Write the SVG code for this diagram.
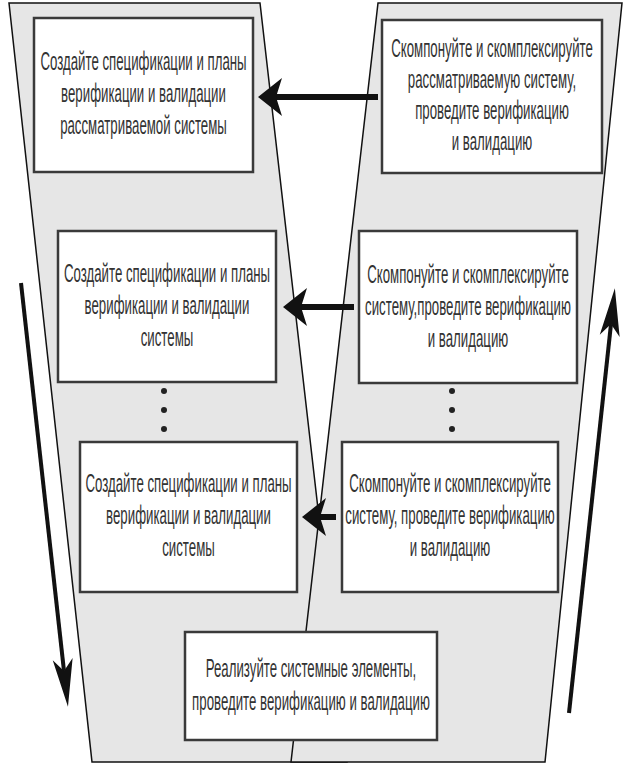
<svg xmlns="http://www.w3.org/2000/svg" width="629" height="767" viewBox="0 0 629 767">
<style>
.arm{fill:#e6e6e6;stroke:#111;stroke-width:1.5;stroke-linejoin:miter}
.box{fill:#fff;stroke:#3a3a3a;stroke-width:2.5}
.t{font-family:"Liberation Sans",Arial,sans-serif;font-size:25px;fill:#333;text-anchor:middle}
.h{stroke:#111;stroke-width:6;fill:none}
.v{stroke:#111;stroke-width:4;fill:none}
.dot{fill:#222}
</style>
<defs>
<marker id="hh" markerUnits="userSpaceOnUse" viewBox="0 0 24 40" refX="6" refY="20" markerWidth="24" markerHeight="40" orient="auto">
<path d="M0,1 L24,20 L0,39 L6,20 Z" fill="#111"/>
</marker>
<marker id="vh" markerUnits="userSpaceOnUse" viewBox="0 0 48 22" refX="12" refY="11" markerWidth="48" markerHeight="22" orient="auto">
<path d="M0,1 L48,11 L0,21 L12,11 Z" fill="#111"/>
</marker>
</defs>
<rect width="629" height="767" fill="#fff"/>
<g id="background">
<polygon class="arm" points="9,3 260,3 347,762 92,762"/>
<polygon class="arm" points="378,3 622,3 545,762 291,762"/>
</g>
<g id="dots">
<circle class="dot" cx="164" cy="391" r="3"/>
<circle class="dot" cx="164" cy="410" r="3"/>
<circle class="dot" cx="164" cy="429" r="3"/>
<circle class="dot" cx="452" cy="391" r="3"/>
<circle class="dot" cx="452" cy="410" r="3"/>
<circle class="dot" cx="452" cy="429" r="3"/>
</g>
<g id="n-left1">
<rect class="box" x="34" y="18" width="219" height="154"/>
<text class="t" transform="translate(143.5,0) scale(0.53,1)"><tspan x="0" y="70">Создайте спецификации и планы</tspan><tspan x="0" y="102">верификации и валидации</tspan><tspan x="0" y="134">рассматриваемой системы</tspan></text>
</g>
<g id="n-right1">
<rect class="box" x="382" y="20" width="220" height="153"/>
<text class="t" transform="translate(492,0) scale(0.53,1)"><tspan x="0" y="57">Скомпонуйте и скомплексируйте</tspan><tspan x="0" y="88">рассматриваемую систему,</tspan><tspan x="0" y="119">проведите верификацию</tspan><tspan x="0" y="150">и валидацию</tspan></text>
</g>
<g id="n-left2">
<rect class="box" x="58" y="231" width="218" height="151"/>
<text class="t" transform="translate(167,0) scale(0.53,1)"><tspan x="0" y="282">Создайте спецификации и планы</tspan><tspan x="0" y="314">верификации и валидации</tspan><tspan x="0" y="346">системы</tspan></text>
</g>
<g id="n-right2">
<rect class="box" x="359" y="231" width="218" height="152"/>
<text class="t" transform="translate(468,0) scale(0.53,1)"><tspan x="0" y="283">Скомпонуйте и скомплексируйте</tspan><tspan x="0" y="315">систему,проведите верификацию</tspan><tspan x="0" y="347">и валидацию</tspan></text>
</g>
<g id="n-left3">
<rect class="box" x="80" y="442" width="217" height="150"/>
<text class="t" transform="translate(188.5,0) scale(0.53,1)"><tspan x="0" y="492">Создайте спецификации и планы</tspan><tspan x="0" y="524">верификации и валидации</tspan><tspan x="0" y="556">системы</tspan></text>
</g>
<g id="n-right3">
<rect class="box" x="342" y="442" width="216" height="150"/>
<text class="t" transform="translate(450,0) scale(0.53,1)"><tspan x="0" y="492">Скомпонуйте и скомплексируйте</tspan><tspan x="0" y="524">систему, проведите верификацию</tspan><tspan x="0" y="556">и валидацию</tspan></text>
</g>
<g id="n-bottom">
<rect class="box" x="185" y="632" width="252" height="108"/>
<text class="t" transform="translate(311,0) scale(0.53,1)"><tspan x="0" y="677">Реализуйте системные элементы,</tspan><tspan x="0" y="710">проведите верификацию и валидацию</tspan></text>
</g>
<g id="connectors">
<line class="h" x1="378" y1="97" x2="276" y2="97" marker-end="url(#hh)"/>
<line class="h" x1="354" y1="307" x2="301" y2="307" marker-end="url(#hh)"/>
<line class="h" x1="336" y1="517" x2="320" y2="517" marker-end="url(#hh)"/>
<line class="v" x1="21" y1="283" x2="64" y2="671" marker-end="url(#vh)"/>
<line class="v" x1="569" y1="713" x2="611" y2="324" marker-end="url(#vh)"/>
</g>
</svg>
